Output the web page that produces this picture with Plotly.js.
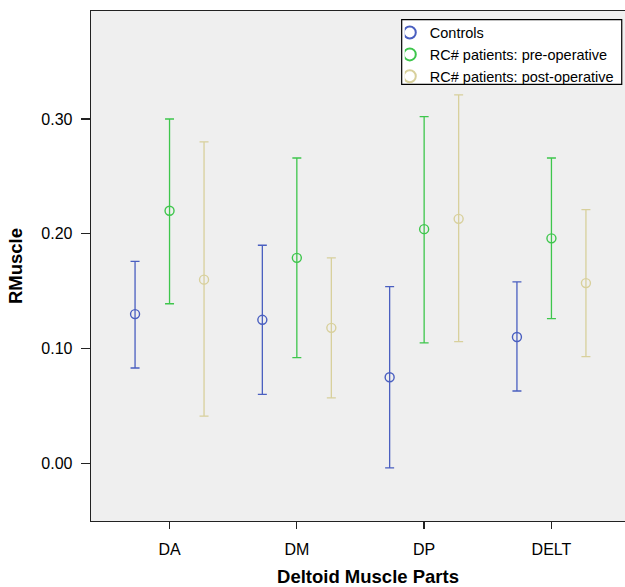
<!DOCTYPE html>
<html>
<head>
<meta charset="utf-8">
<script src="https://cdn.plot.ly/plotly-3.0.1.min.js"></script>
<style>html,body{margin:0;padding:0;overflow:hidden;background:#fff;width:625px;height:587px;}</style>
</head>
<body>
<div id="chart" style="width:645px;height:587px;"></div>
<script>
const categories = ["DA", "DM", "DP", "DELT"];
const seriesNames = ["Controls", "RC# patients: pre-operative", "RC# patients: post-operative"];

const controlsMean  = [0.130, 0.125, 0.075, 0.110];
const controlsUpper = [0.176, 0.190, 0.154, 0.158];
const controlsLower = [0.083, 0.060, -0.004, 0.063];

const preMean  = [0.220, 0.179, 0.204, 0.196];
const preUpper = [0.300, 0.266, 0.302, 0.266];
const preLower = [0.139, 0.092, 0.105, 0.126];

const postMean  = [0.160, 0.118, 0.213, 0.157];
const postUpper = [0.280, 0.179, 0.321, 0.221];
const postLower = [0.041, 0.057, 0.106, 0.093];

const yTickVals = [0.00, 0.10, 0.20, 0.30];
const yTickText = ["0.00", "0.10", "0.20", "0.30"];

const colors = ["#4a5fc0", "#3ec64c", "#d8d09c"];

function makeTrace(name, mean, upper, lower, color) {
  return {
    type: "scatter",
    mode: "markers",
    name: name,
    x: categories,
    y: mean,
    marker: {symbol: "circle-open", size: 9, color: color, line: {width: 1.4, color: color}},
    error_y: {
      type: "data", symmetric: false,
      array: upper.map((u, i) => u - mean[i]),
      arrayminus: lower.map((l, i) => mean[i] - l),
      color: color, thickness: 1.3, width: 4.5
    }
  };
}

const data = [
  makeTrace(seriesNames[0], controlsMean, controlsUpper, controlsLower, colors[0]),
  makeTrace(seriesNames[1], preMean, preUpper, preLower, colors[1]),
  makeTrace(seriesNames[2], postMean, postUpper, postLower, colors[2])
];

const layout = {
  width: 645, height: 587,
  margin: {l: 91, r: 0, t: 11, b: 66},
  paper_bgcolor: "#ffffff",
  plot_bgcolor: "#efefef",
  font: {family: "Liberation Sans, Arial, sans-serif", size: 16, color: "#000"},
  scattermode: "group",
  scattergap: 0.187,
  showlegend: true,
  xaxis: {
    type: "category",
    range: [-0.617, 3.735],
    showgrid: false, zeroline: false,
    showline: true, linecolor: "#222", linewidth: 1.3, mirror: true,
    ticks: "outside", ticklen: 7, tickwidth: 1.3, tickcolor: "#222",
    ticklabelstandoff: 6,
    tickfont: {size: 16},
    title: {text: "Deltoid Muscle Parts", font: {size: 18.5, weight: "bold"}, standoff: 13}
  },
  yaxis: {
    range: [-0.0503, 0.3941],
    tickvals: yTickVals, ticktext: yTickText,
    showgrid: false, zeroline: false,
    showline: true, linecolor: "#222", linewidth: 1.3,
    ticks: "outside", ticklen: 9, tickwidth: 1.3, tickcolor: "#222",
    ticklabelstandoff: 5,
    tickfont: {size: 16},
    title: {text: "RMuscle", font: {size: 18.5, weight: "bold"}, standoff: 14}
  },
  shapes: [{
    type: "rect", xref: "paper", yref: "paper", layer: "above",
    x0: 0.5608, x1: 0.958, y0: 0.8563, y1: 0.983,
    fillcolor: "#ffffff", line: {color: "#000", width: 1.2}
  }],
  legend: {
    x: 0.5664, y: 0.989, xanchor: "left", yanchor: "top",
    bgcolor: "rgba(0,0,0,0)", borderwidth: 0,
    font: {size: 14.5}, itemwidth: 30, indentation: -15, tracegroupgap: 0,
    itemsizing: "constant",
    itemclick: false
  }
};

Plotly.newPlot("chart", data, layout, {displayModeBar: false, staticPlot: true});
</script>
</body>
</html>
